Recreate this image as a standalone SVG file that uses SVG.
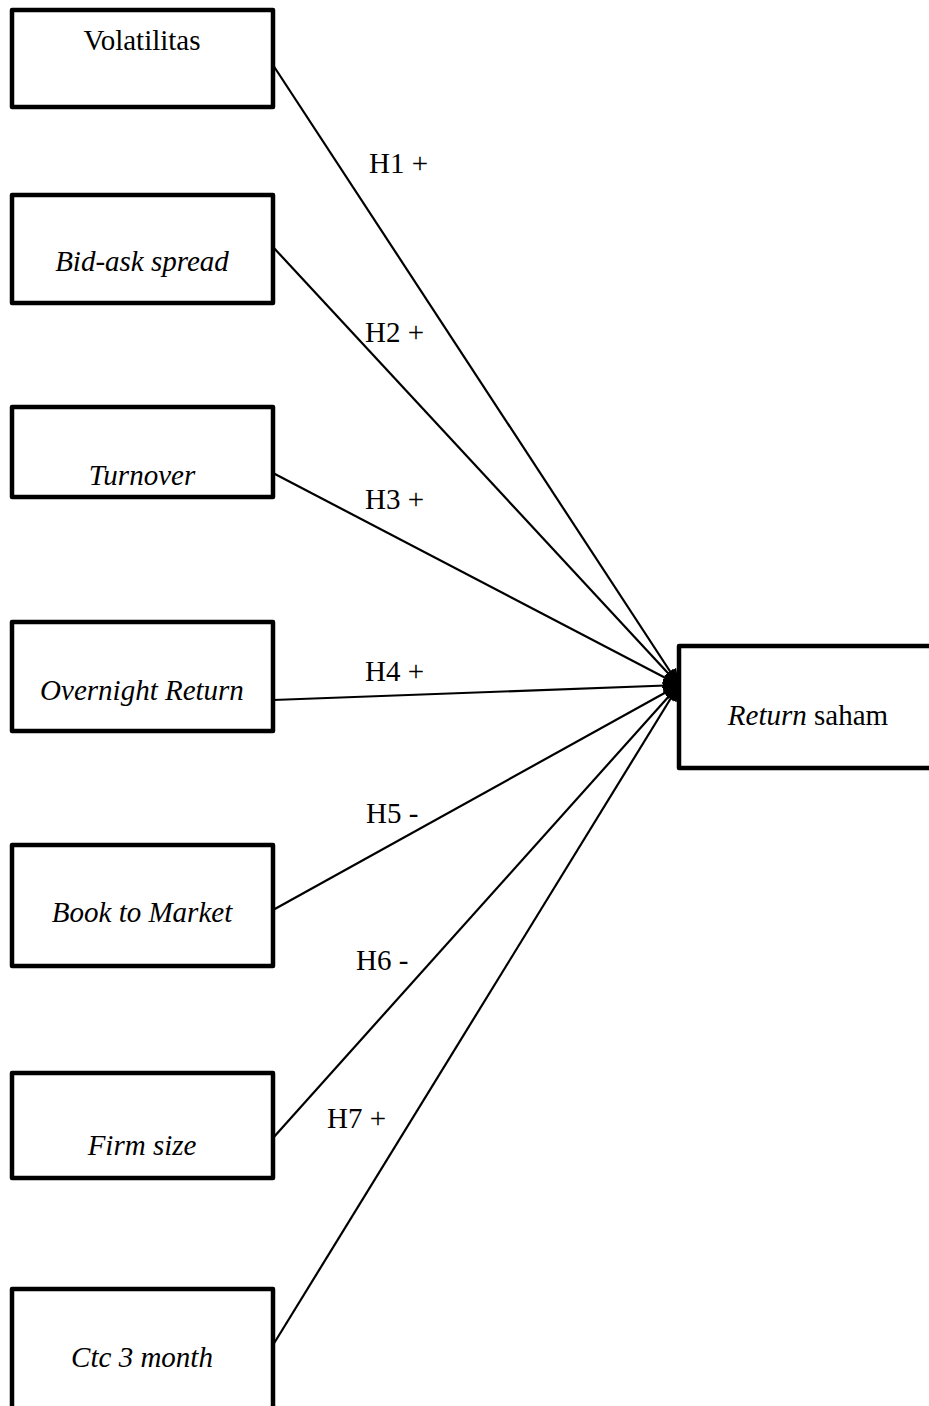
<svg xmlns="http://www.w3.org/2000/svg" width="929" height="1406" viewBox="0 0 929 1406">
<style>
.box{fill:#fff;stroke:#000;stroke-width:4.5;stroke-linejoin:round}
.t{font-family:"Liberation Serif","Times New Roman",serif;font-size:29px;fill:#000;text-anchor:middle}
.i{font-style:italic}
.lbl{font-family:"Liberation Serif","Times New Roman",serif;font-size:29px;fill:#000}
.c{stroke:#000;stroke-width:2.2;fill:none}
</style>
<defs>
<marker id="ah" markerUnits="userSpaceOnUse" markerWidth="18" markerHeight="14" refX="16" refY="7" orient="auto">
<path d="M0,0 L16,7 L0,14 z" fill="#000"/>
</marker>
</defs>
<g id="connectors">
<line class="c" x1="273" y1="65" x2="679" y2="685" marker-end="url(#ah)"/>
<line class="c" x1="273" y1="247" x2="679" y2="685" marker-end="url(#ah)"/>
<line class="c" x1="273" y1="473" x2="679" y2="685" marker-end="url(#ah)"/>
<line class="c" x1="273" y1="700" x2="679" y2="685" marker-end="url(#ah)"/>
<line class="c" x1="273" y1="910" x2="679" y2="685" marker-end="url(#ah)"/>
<line class="c" x1="273" y1="1138" x2="679" y2="685" marker-end="url(#ah)"/>
<line class="c" x1="273" y1="1345" x2="679" y2="685" marker-end="url(#ah)"/>
<text class="lbl" x="369" y="173">H1 +</text>
<text class="lbl" x="365" y="342">H2 +</text>
<text class="lbl" x="365" y="509">H3 +</text>
<text class="lbl" x="365" y="681">H4 +</text>
<text class="lbl" x="366" y="823">H5 -</text>
<text class="lbl" x="356" y="970">H6 -</text>
<text class="lbl" x="327" y="1128">H7 +</text>
</g>
<g id="volatilitas">
<rect class="box" x="12" y="10" width="261" height="97"/>
<text class="t" x="142" y="50">Volatilitas</text>
</g>
<g id="bidask">
<rect class="box" x="12" y="195" width="261" height="108"/>
<text class="t i" x="142" y="271">Bid-ask spread</text>
</g>
<g id="turnover">
<rect class="box" x="12" y="407" width="261" height="90"/>
<text class="t i" x="142" y="485">Turnover</text>
</g>
<g id="overnight">
<rect class="box" x="12" y="622" width="261" height="109"/>
<text class="t i" x="142" y="700">Overnight Return</text>
</g>
<g id="booktomarket">
<rect class="box" x="12" y="845" width="261" height="121"/>
<text class="t i" x="142" y="922">Book to Market</text>
</g>
<g id="firmsize">
<rect class="box" x="12" y="1073" width="261" height="105"/>
<text class="t i" x="142" y="1155">Firm size</text>
</g>
<g id="ctc">
<rect class="box" x="12" y="1289" width="261" height="125"/>
<text class="t i" x="142" y="1367">Ctc 3 month</text>
</g>
<g id="return">
<rect class="box" x="679" y="646" width="260" height="122"/>
<text class="t" x="808" y="725"><tspan font-style="italic">Return</tspan> saham</text>
</g>
</svg>
